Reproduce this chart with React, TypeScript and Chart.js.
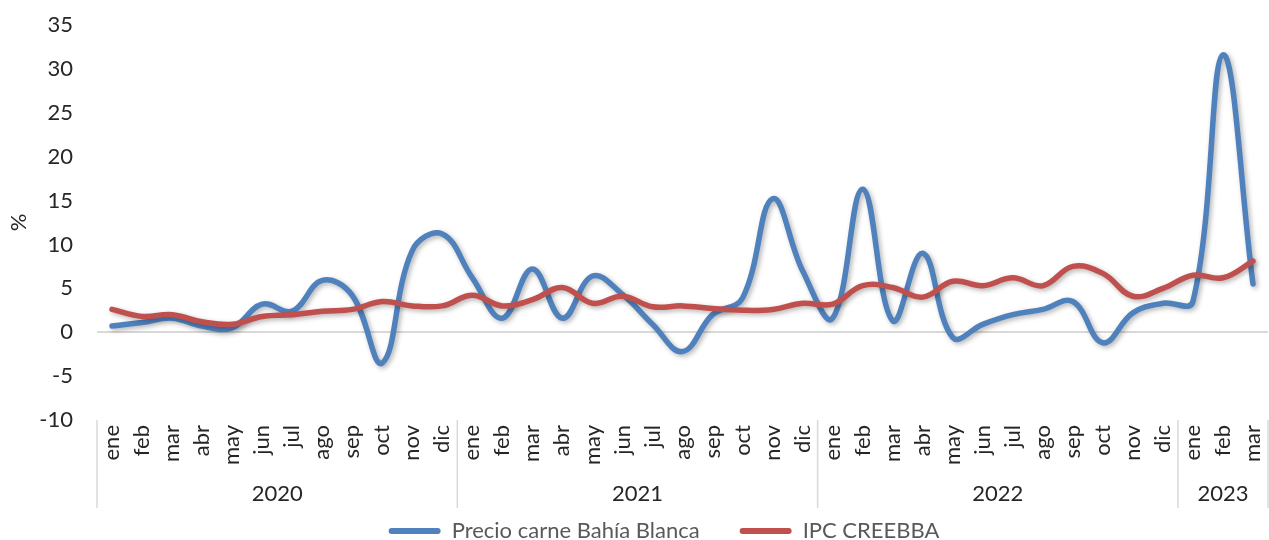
import React, { useEffect, useRef } from 'react';
import { Chart, registerables } from 'chart.js';

Chart.register(...registerables);

const monthNames = ['ene', 'feb', 'mar', 'abr', 'may', 'jun', 'jul', 'ago', 'sep', 'oct', 'nov', 'dic'];
const years = ['2020', '2021', '2022', '2023'];
const monthsPerYear = [12, 12, 12, 3];

const precioCarne = [
  0.7, 1.1, 1.6, 0.7, 0.5, 3.2, 2.4, 5.9, 4.2, -3.5, 9.3, 11.2,
  6.2, 1.6, 7.2, 1.6, 6.4, 4.3, 0.9, -2.2, 2.0, 3.9, 15.2, 7.0,
  1.6, 16.3, 1.3, 9.0, -0.6, 0.9, 2.0, 2.6, 3.5, -1.2, 2.2, 3.3,
  3.5, 31.6, 5.5,
];
const ipcCreebba = [
  2.6, 1.8, 2.0, 1.2, 0.9, 1.8, 2.0, 2.4, 2.6, 3.5, 3.0, 3.0,
  4.2, 3.0, 3.7, 5.1, 3.3, 4.1, 2.9, 3.0, 2.7, 2.5, 2.6, 3.3,
  3.2, 5.3, 5.1, 4.0, 5.8, 5.3, 6.2, 5.3, 7.5, 6.7, 4.1, 5.0,
  6.5, 6.2, 8.1,
];
const seriesNames = ['Precio carne Bahía Blanca', 'IPC CREEBBA'];
const yMin = -10;
const yMax = 35;
const yStep = 5;
const yTitle = '%';

const labels = years.flatMap((_, i) => monthNames.slice(0, monthsPerYear[i]));

const FONT = 'Lato, "Open Sans", sans-serif';
const BLUE = '#4F81BD';
const RED = '#C0504D';

const yearGroupPlugin = {
  id: 'yearGroups',
  afterDraw(chart: any) {
    const xs = chart.scales.x;
    const ctx = chart.ctx;
    const n = labels.length;
    const w = (xs.right - xs.left) / n;
    const bounds: number[] = [0];
    let acc = 0;
    monthsPerYear.forEach((c) => {
      acc += c;
      bounds.push(acc);
    });
    const top = chart.chartArea.bottom;
    ctx.save();
    ctx.strokeStyle = '#D9D9D9';
    ctx.lineWidth = 1.5;
    bounds.forEach((b) => {
      const px = Math.min(xs.left + b * w, chart.width - 1);
      ctx.beginPath();
      ctx.moveTo(px, top);
      ctx.lineTo(px, 508);
      ctx.stroke();
    });
    ctx.fillStyle = '#262626';
    ctx.font = `22px ${FONT}`;
    ctx.textAlign = 'center';
    ctx.textBaseline = 'middle';
    years.forEach((yr, i) => {
      const cx = xs.left + ((bounds[i] + bounds[i + 1]) / 2) * w;
      ctx.fillText(yr, cx, 494);
    });
    ctx.restore();
  },
};

const shadowPlugin = {
  id: 'lineShadow',
  beforeDatasetDraw(chart: any) {
    const ctx = chart.ctx;
    ctx.save();
    ctx.shadowColor = 'rgba(0,0,0,0.3)';
    ctx.shadowBlur = 5;
    ctx.shadowOffsetX = 2;
    ctx.shadowOffsetY = 2;
  },
  afterDatasetDraw(chart: any) {
    chart.ctx.restore();
  },
};

const legendShiftPlugin = {
  id: 'legendShift',
  afterLayout(chart: any) {
    const lg = chart.legend;
    if (lg) {
      lg.top += 12;
      lg.bottom += 12;
      lg.left += 30;
      lg.right += 30;
    }
  },
};

export default function App() {
  const ref = useRef<HTMLCanvasElement | null>(null);

  useEffect(() => {
    if (!ref.current) return;
    const chart = new Chart(ref.current, {
      type: 'line',
      data: {
        labels,
        datasets: [
          {
            label: seriesNames[0],
            data: precioCarne,
            borderColor: BLUE,
            backgroundColor: BLUE,
            borderWidth: 5.5,
            pointRadius: 0,
            tension: 0.4,
            order: 1,
            borderCapStyle: 'round',
            borderJoinStyle: 'round',
          },
          {
            label: seriesNames[1],
            data: ipcCreebba,
            borderColor: RED,
            backgroundColor: RED,
            borderWidth: 5.5,
            pointRadius: 0,
            tension: 0.4,
            order: 0,
            borderCapStyle: 'round',
            borderJoinStyle: 'round',
          },
        ],
      },
      options: {
        animation: false,
        responsive: true,
        maintainAspectRatio: false,
        layout: { padding: { top: 25, right: 1, left: 0, bottom: 0 } },
        plugins: {
          tooltip: { enabled: false },
          legend: {
            position: 'bottom',
            labels: {
              boxWidth: 52,
              boxHeight: 6,
              padding: 40,
              color: '#595959',
              font: { family: FONT, size: 22 },
              useBorderRadius: true,
              borderRadius: 3,
              sort: (a: any, b: any) => a.datasetIndex - b.datasetIndex,
              generateLabels: (c: any) =>
                (Chart.defaults.plugins.legend.labels as any)
                  .generateLabels(c)
                  .map((l: any) => ({ ...l, lineWidth: 0 })),
            },
          },
        },
        scales: {
          x: {
            offset: true,
            grid: { display: false, drawTicks: false },
            border: { display: false },
            ticks: {
              autoSkip: false,
              minRotation: 90,
              maxRotation: 90,
              padding: 5,
              color: '#262626',
              font: { family: FONT, size: 22 },
            },
            afterFit: (s: any) => {
              s.height = 48;
              s.paddingLeft = 0;
              s.paddingRight = 0;
            },
          },
          y: {
            min: yMin,
            max: yMax,
            ticks: {
              stepSize: yStep,
              padding: 24,
              color: '#262626',
              font: { family: FONT, size: 22 },
            },
            grid: {
              drawTicks: false,
              lineWidth: 2,
              color: (c: any) => (c.tick && c.tick.value === 0 ? '#D9D9D9' : 'rgba(0,0,0,0)'),
            },
            border: { display: false },
            title: {
              display: true,
              text: yTitle,
              color: '#262626',
              font: { family: FONT, size: 22 },
              padding: { top: 6, bottom: 0 },
            },
            afterFit: (s: any) => {
              s.width = 97;
              s.paddingTop = 0;
              s.paddingBottom = 0;
            },
          },
        },
      },
      plugins: [shadowPlugin, yearGroupPlugin, legendShiftPlugin],
    } as any);
    return () => chart.destroy();
  }, []);

  return (
    <div style={{ position: 'absolute', left: 0, top: 0, width: 1269, height: 540, background: '#fff' }}>
      <canvas ref={ref} />
    </div>
  );
}
